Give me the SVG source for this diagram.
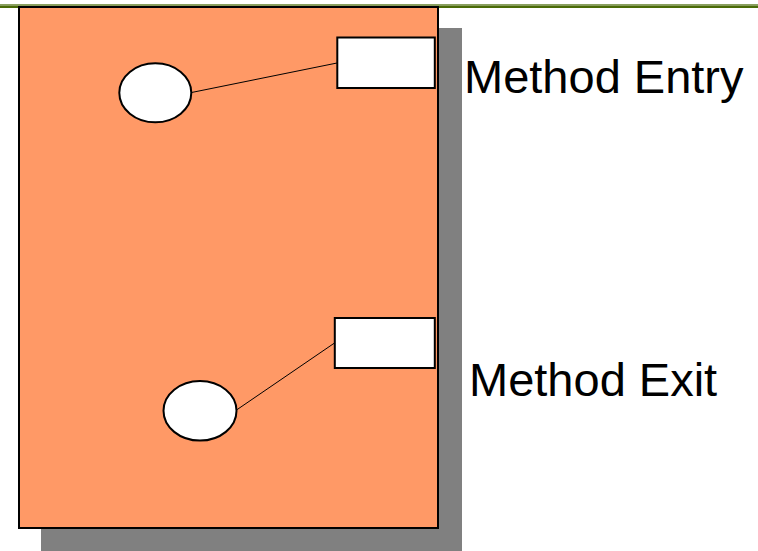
<svg xmlns="http://www.w3.org/2000/svg" width="758" height="551" viewBox="0 0 758 551">
<style>
.node{fill:#fff;stroke:#000;stroke-width:2}
.conn{stroke:#000;stroke-width:1;fill:none}
.lbl{font-family:"Liberation Sans",Arial,sans-serif;font-size:47px;fill:#000}
</style>
<rect x="0" y="0" width="758" height="551" fill="#fff"/>
<rect x="0" y="4" width="758" height="1.5" fill="#8aa060"/>
<rect x="0" y="5.5" width="758" height="2.5" fill="#4a6b08"/>
<g id="frame">
<rect x="41" y="28" width="421" height="523" fill="#808080"/>
<rect x="19" y="7" width="419" height="521" fill="#ff9966" stroke="#000" stroke-width="2"/>
</g>
<g id="connectors">
<line class="conn" x1="191.5" y1="92.5" x2="337" y2="63"/>
<line class="conn" x1="236.5" y1="410" x2="334.5" y2="343"/>
</g>
<g id="entry-ellipse"><ellipse class="node" cx="155.3" cy="92.8" rx="36" ry="29.5"/></g>
<g id="entry-box"><rect class="node" x="337.3" y="37.5" width="97.5" height="50.5"/></g>
<g id="exit-ellipse"><ellipse class="node" cx="200" cy="410.8" rx="36.5" ry="29.8"/></g>
<g id="exit-box"><rect class="node" x="334.8" y="318" width="100" height="50"/></g>
<g id="label-entry"><text class="lbl" x="464" y="92.5">Method Entry</text></g>
<g id="label-exit"><text class="lbl" x="469" y="396">Method Exit</text></g>
</svg>
